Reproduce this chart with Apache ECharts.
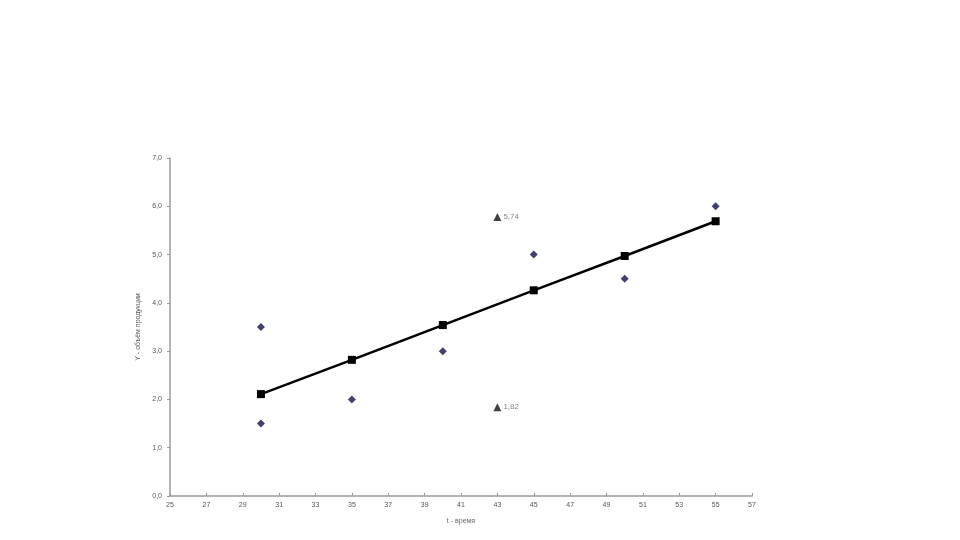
<!DOCTYPE html>
<html><head><meta charset="utf-8">
<script src="https://cdn.jsdelivr.net/npm/echarts@6/dist/echarts.min.js"></script>
<style>html,body{margin:0;padding:0;background:#fff}#c{width:960px;height:540px}</style>
</head><body><div id="c"></div>
<script>
var obsX = [30, 30, 35, 40, 45, 50, 55];
var obsY = [3.5, 1.5, 2.0, 3.0, 5.0, 4.5, 6.0];
var fitX = [30, 35, 40, 45, 50, 55];
var fitY = [2.11, 2.82, 3.54, 4.26, 4.97, 5.69];
var boundX = [43, 43];
var boundY = [5.78, 1.84];
var boundLabels = ['5,74', '1,82'];
var xTitle = 't - время';
var yTitle = 'Y - объём продукции';

function zip(a, b) { return a.map(function (v, i) { return [v, b[i]]; }); }
var chart = echarts.init(document.getElementById('c'));
var axisCol = '#9a9a9a';
chart.setOption({
  animation: false,
  backgroundColor: '#fff',
  grid: { left: 170, right: 208, top: 158, bottom: 44 },
  xAxis: {
    type: 'value', min: 25, max: 57, interval: 2,
    name: xTitle, nameLocation: 'middle', nameGap: 22,
    nameTextStyle: { fontSize: 7, color: '#666' },
    axisLine: { lineStyle: { color: axisCol, width: 1.5 } },
    axisTick: { inside: true, length: 3, lineStyle: { color: axisCol } },
    axisLabel: { fontSize: 7, color: '#555', margin: 6 },
    splitLine: { show: false }
  },
  yAxis: {
    type: 'value', min: 0, max: 7, interval: 1,
    name: yTitle, nameLocation: 'middle', nameGap: 28,
    nameTextStyle: { fontSize: 7, color: '#555' },
    axisLine: { show: true, lineStyle: { color: axisCol, width: 1.5 } },
    axisTick: { show: true, length: 3, lineStyle: { color: axisCol } },
    axisLabel: { fontSize: 7, color: '#555', margin: 8,
      formatter: function (v) { return v.toFixed(1).replace('.', ','); } },
    splitLine: { show: false }
  },
  series: [
    {
      type: 'line', data: zip(fitX, fitY), symbol: 'rect', symbolSize: 8,
      lineStyle: { color: '#000', width: 2.5 }, itemStyle: { color: '#000' }, z: 2
    },
    {
      type: 'scatter', data: zip(obsX, obsY), symbol: 'diamond', symbolSize: 8,
      itemStyle: { color: '#12124a' }, z: 3
    },
    {
      type: 'scatter', data: zip(boundX, boundY), symbol: 'triangle', symbolSize: 8,
      itemStyle: { color: '#111' },
      label: { show: true, position: 'right', distance: 2, fontSize: 8, color: '#666',
        formatter: function (p) { return boundLabels[p.dataIndex]; } }, z: 3
    }
  ]
});
</script></body></html>
